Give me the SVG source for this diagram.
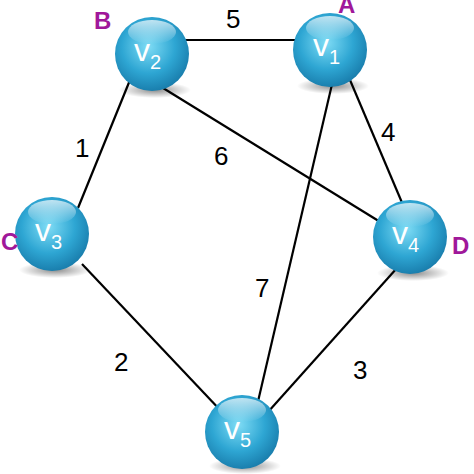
<svg xmlns="http://www.w3.org/2000/svg" width="474" height="474" viewBox="0 0 474 474">
<defs>
<radialGradient id="g" cx="0.45" cy="0.4" r="0.6">
<stop offset="0" stop-color="#7fdcf5"/><stop offset="0.6" stop-color="#2ea6d3"/><stop offset="1" stop-color="#1a7fae"/>
</radialGradient>
<radialGradient id="sh" cx="0.5" cy="0.5" r="0.5"><stop offset="0" stop-color="#000" stop-opacity="0.45"/><stop offset="1" stop-color="#000" stop-opacity="0"/></radialGradient>
<linearGradient id="hl" x1="0" y1="0" x2="0" y2="1"><stop offset="0" stop-color="#fff" stop-opacity="0.7"/><stop offset="1" stop-color="#fff" stop-opacity="0"/></linearGradient>
</defs>
<style>
.e{stroke:#000;stroke-width:2.2;fill:none}
.w{font-family:"Liberation Sans",Arial,sans-serif;font-size:26px;fill:#000}
.n{font-family:"Liberation Sans",Arial,sans-serif;font-size:32px;fill:#fff}
.s{font-size:20px}
.l{font-family:"Liberation Sans",Arial,sans-serif;font-size:24px;fill:#a0189a;font-weight:bold}
</style>
<g id="connectors">
<line class="e" x1="152" y1="40" x2="330" y2="40"/>
<line class="e" x1="130" y1="80" x2="78" y2="208"/>
<line class="e" x1="163" y1="88" x2="390" y2="228"/>
<line class="e" x1="350" y1="80" x2="403" y2="205"/>
<line class="e" x1="333" y1="80" x2="256" y2="410"/>
<line class="e" x1="82" y1="264" x2="222" y2="412"/>
<line class="e" x1="397" y1="268" x2="268" y2="412"/>
<text class="w" x="226" y="28">5</text>
<text class="w" x="75" y="157">1</text>
<text class="w" x="214" y="165">6</text>
<text class="w" x="381" y="141">4</text>
<text class="w" x="255" y="297">7</text>
<text class="w" x="114" y="371">2</text>
<text class="w" x="353" y="379">3</text>
</g>
<g id="v1"><ellipse cx="333" cy="86" rx="36" ry="8" fill="url(#sh)"/><circle cx="330" cy="50" r="37" fill="url(#g)"/><ellipse cx="330" cy="28" rx="24" ry="12" fill="url(#hl)"/><text class="n" x="313" y="56">v<tspan class="s" dy="8">1</tspan></text><text class="l" x="338" y="13">A</text></g>
<g id="v2"><ellipse cx="155" cy="90" rx="36" ry="8" fill="url(#sh)"/><circle cx="152" cy="54" r="37" fill="url(#g)"/><ellipse cx="152" cy="32" rx="24" ry="12" fill="url(#hl)"/><text class="n" x="134" y="61">v<tspan class="s" dy="8">2</tspan></text><text class="l" x="94" y="29">B</text></g>
<g id="v3"><ellipse cx="55" cy="270" rx="36" ry="8" fill="url(#sh)"/><circle cx="52" cy="234" r="37" fill="url(#g)"/><ellipse cx="52" cy="212" rx="24" ry="12" fill="url(#hl)"/><text class="n" x="35" y="241">v<tspan class="s" dy="8">3</tspan></text><text class="l" x="1" y="250">C</text></g>
<g id="v4"><ellipse cx="413" cy="273" rx="36" ry="8" fill="url(#sh)"/><circle cx="410" cy="237" r="37" fill="url(#g)"/><ellipse cx="410" cy="215" rx="24" ry="12" fill="url(#hl)"/><text class="n" x="392" y="244">v<tspan class="s" dy="8">4</tspan></text><text class="l" x="452" y="254">D</text></g>
<g id="v5"><ellipse cx="245" cy="466" rx="36" ry="8" fill="url(#sh)"/><circle cx="242" cy="432" r="37" fill="url(#g)"/><ellipse cx="242" cy="410" rx="24" ry="12" fill="url(#hl)"/><text class="n" x="224" y="439">v<tspan class="s" dy="8">5</tspan></text></g>
</svg>
